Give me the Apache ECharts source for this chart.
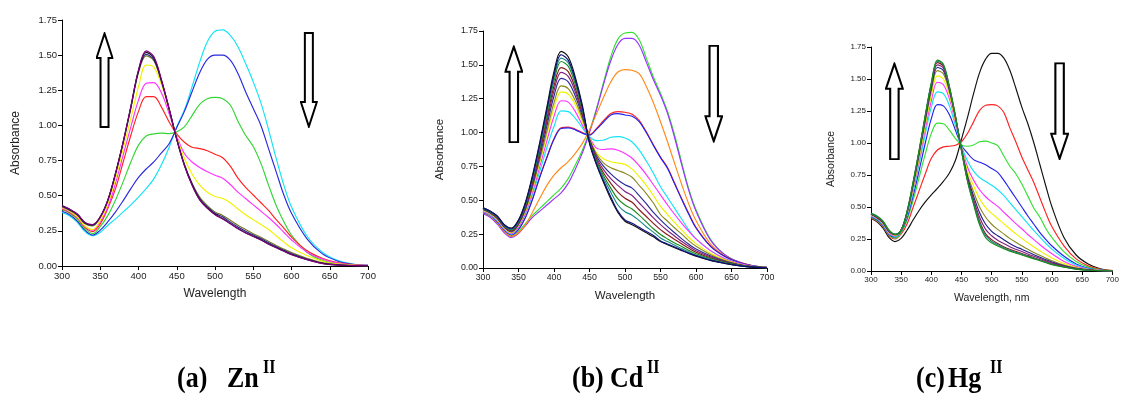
<!DOCTYPE html>
<html><head><meta charset="utf-8">
<script src="https://cdn.jsdelivr.net/npm/echarts@6/dist/echarts.min.js"></script>
<style>html,body{margin:0;padding:0;background:#fff}#c{width:1122px;height:395px}</style>
</head><body><div id="c"></div>
<script>
// Wavelength grid (nm)
var WL = [300,310,320,330,340,350,360,370,380,390,400,410,420,430,440,450,460,470,480,490,500,510,520,530,540,550,560,570,580,590,600,620,640,660,680,700];
var X_TICKS = [300,350,400,450,500,550,600,650,700];
var Y_TICKS = [0,0.25,0.5,0.75,1.0,1.25,1.5,1.75];
var CAPTIONS = [["(a)","Zn","II"],["(b)","Cd","II"],["(c)","Hg","II"]];
var X_TITLES = ["Wavelength","Wavelength","Wavelength, nm"];
var Y_TITLE = "Absorbance";

// Panel (a) Zn(II)
var a_cyan   = [0.38,0.355,0.31,0.245,0.215,0.24,0.29,0.335,0.385,0.435,0.49,0.55,0.62,0.72,0.845,0.99,1.11,1.275,1.45,1.595,1.67,1.68,1.64,1.56,1.44,1.31,1.16,0.97,0.765,0.575,0.42,0.215,0.10,0.04,0.014,0.005];
var a_blue   = [0.39,0.365,0.32,0.255,0.22,0.255,0.315,0.385,0.465,0.55,0.63,0.69,0.74,0.805,0.87,0.985,1.10,1.24,1.375,1.47,1.50,1.50,1.465,1.37,1.24,1.12,1.00,0.835,0.67,0.505,0.375,0.195,0.088,0.036,0.012,0.004];
var a_green  = [0.40,0.375,0.33,0.265,0.23,0.28,0.36,0.47,0.60,0.74,0.86,0.925,0.94,0.945,0.942,0.955,0.99,1.07,1.15,1.19,1.20,1.19,1.145,1.03,0.93,0.85,0.73,0.575,0.43,0.315,0.22,0.10,0.04,0.017,0.007,0.003];
var a_red    = [0.405,0.38,0.34,0.275,0.245,0.30,0.41,0.55,0.74,0.93,1.10,1.205,1.205,1.13,1.025,0.94,0.88,0.845,0.835,0.82,0.795,0.77,0.71,0.625,0.56,0.505,0.45,0.395,0.33,0.27,0.205,0.11,0.055,0.024,0.01,0.004];
var a_magenta= [0.41,0.385,0.345,0.28,0.255,0.315,0.42,0.59,0.79,0.99,1.18,1.30,1.305,1.23,1.085,0.925,0.80,0.74,0.70,0.67,0.645,0.625,0.58,0.525,0.48,0.435,0.39,0.345,0.295,0.24,0.185,0.10,0.05,0.02,0.008,0.003];
var a_yellow = [0.415,0.39,0.35,0.285,0.26,0.325,0.445,0.62,0.835,1.05,1.275,1.43,1.415,1.29,1.11,0.915,0.765,0.655,0.575,0.525,0.495,0.48,0.45,0.405,0.365,0.33,0.295,0.26,0.215,0.17,0.13,0.075,0.035,0.015,0.006,0.002];
var a_olive  = [0.42,0.395,0.36,0.30,0.285,0.345,0.465,0.655,0.875,1.12,1.375,1.495,1.46,1.31,1.115,0.905,0.725,0.59,0.49,0.43,0.385,0.36,0.325,0.29,0.26,0.23,0.205,0.175,0.145,0.12,0.095,0.055,0.025,0.01,0.004,0.001];
var a_navy   = [0.425,0.40,0.365,0.305,0.29,0.348,0.468,0.658,0.88,1.128,1.385,1.505,1.47,1.316,1.117,0.903,0.72,0.583,0.48,0.42,0.375,0.35,0.312,0.278,0.248,0.22,0.195,0.165,0.137,0.112,0.087,0.05,0.021,0.008,0.003,0.001];
var a_black  = [0.428,0.403,0.368,0.308,0.293,0.35,0.47,0.66,0.883,1.132,1.39,1.52,1.482,1.32,1.119,0.901,0.717,0.578,0.472,0.413,0.368,0.338,0.302,0.267,0.237,0.212,0.187,0.157,0.131,0.106,0.082,0.046,0.019,0.007,0.003,0.001];
var a_purple = [0.43,0.405,0.37,0.31,0.295,0.35,0.47,0.66,0.885,1.135,1.395,1.53,1.49,1.325,1.12,0.90,0.715,0.575,0.47,0.41,0.365,0.335,0.30,0.265,0.235,0.21,0.185,0.155,0.13,0.105,0.08,0.045,0.018,0.007,0.003,0.001];

// Panel (b) Cd(II)
var b_green  = [0.405,0.38,0.33,0.27,0.233,0.27,0.33,0.39,0.44,0.49,0.54,0.59,0.66,0.76,0.87,1.01,1.18,1.375,1.56,1.69,1.735,1.74,1.685,1.55,1.41,1.29,1.155,0.98,0.775,0.58,0.43,0.215,0.10,0.045,0.017,0.005];
var b_violet = [0.40,0.375,0.325,0.26,0.225,0.255,0.315,0.375,0.42,0.465,0.51,0.555,0.625,0.73,0.85,1.00,1.17,1.36,1.53,1.65,1.695,1.695,1.645,1.52,1.39,1.275,1.14,0.96,0.76,0.57,0.42,0.21,0.10,0.045,0.017,0.005];
var b_orange = [0.41,0.385,0.335,0.27,0.235,0.26,0.32,0.415,0.515,0.61,0.685,0.74,0.785,0.846,0.92,1.02,1.14,1.263,1.374,1.447,1.465,1.46,1.435,1.34,1.22,1.08,0.93,0.77,0.615,0.47,0.35,0.18,0.09,0.042,0.016,0.004];
var b_red    = [0.41,0.39,0.345,0.28,0.245,0.285,0.38,0.515,0.675,0.82,0.955,1.035,1.04,1.025,1.00,0.985,1.03,1.09,1.14,1.155,1.15,1.135,1.09,1.005,0.91,0.82,0.74,0.625,0.51,0.40,0.30,0.165,0.088,0.042,0.016,0.004];
var b_blue   = [0.41,0.39,0.345,0.28,0.245,0.285,0.375,0.51,0.67,0.815,0.95,1.03,1.035,1.02,0.995,0.98,1.025,1.08,1.13,1.14,1.13,1.12,1.08,1.00,0.905,0.815,0.735,0.62,0.505,0.395,0.295,0.162,0.087,0.042,0.016,0.004];
var b_cyan   = [0.415,0.39,0.35,0.285,0.25,0.30,0.40,0.545,0.715,0.89,1.045,1.16,1.155,1.105,1.035,0.97,0.94,0.945,0.965,0.97,0.96,0.93,0.87,0.79,0.70,0.60,0.52,0.44,0.36,0.28,0.215,0.13,0.072,0.035,0.013,0.004];
var b_magenta= [0.42,0.395,0.355,0.29,0.255,0.305,0.41,0.565,0.75,0.94,1.12,1.235,1.225,1.155,1.055,0.965,0.885,0.875,0.88,0.87,0.845,0.81,0.755,0.69,0.615,0.54,0.465,0.395,0.33,0.27,0.215,0.13,0.07,0.034,0.013,0.004];
var b_yellow = [0.425,0.40,0.36,0.295,0.26,0.315,0.42,0.585,0.78,0.985,1.18,1.30,1.285,1.205,1.08,0.96,0.85,0.805,0.785,0.775,0.765,0.73,0.675,0.61,0.535,0.455,0.395,0.335,0.28,0.225,0.18,0.11,0.062,0.03,0.011,0.003];
var b_olive  = [0.43,0.405,0.365,0.30,0.265,0.32,0.43,0.60,0.80,1.01,1.22,1.345,1.325,1.235,1.10,0.955,0.84,0.775,0.74,0.72,0.70,0.67,0.61,0.55,0.48,0.395,0.345,0.295,0.25,0.20,0.16,0.10,0.056,0.028,0.01,0.003];
var b_slate  = [0.432,0.407,0.368,0.303,0.27,0.325,0.44,0.615,0.825,1.05,1.27,1.40,1.375,1.27,1.12,0.95,0.825,0.75,0.695,0.65,0.615,0.59,0.535,0.475,0.41,0.355,0.305,0.26,0.215,0.175,0.14,0.09,0.052,0.026,0.01,0.003];
var b_purple = [0.435,0.41,0.372,0.306,0.27,0.33,0.45,0.63,0.85,1.08,1.31,1.445,1.415,1.30,1.135,0.945,0.81,0.725,0.66,0.61,0.565,0.535,0.48,0.425,0.37,0.32,0.275,0.235,0.195,0.16,0.128,0.083,0.048,0.024,0.009,0.003];
var b_maroon = [0.437,0.412,0.375,0.309,0.275,0.335,0.455,0.645,0.865,1.105,1.345,1.48,1.45,1.325,1.15,0.94,0.795,0.70,0.625,0.56,0.515,0.485,0.43,0.38,0.33,0.283,0.245,0.21,0.177,0.145,0.117,0.076,0.045,0.022,0.008,0.002];
var b_dkgreen= [0.44,0.415,0.378,0.312,0.28,0.34,0.465,0.66,0.885,1.135,1.38,1.525,1.49,1.355,1.165,0.935,0.785,0.68,0.59,0.51,0.465,0.435,0.39,0.34,0.29,0.248,0.215,0.185,0.158,0.13,0.105,0.07,0.042,0.021,0.008,0.002];
var b_teal   = [0.442,0.417,0.381,0.315,0.285,0.345,0.475,0.67,0.90,1.155,1.405,1.55,1.515,1.375,1.175,0.93,0.775,0.66,0.56,0.465,0.415,0.39,0.35,0.305,0.265,0.222,0.195,0.168,0.143,0.118,0.095,0.064,0.038,0.019,0.007,0.002];
var b_black  = [0.445,0.42,0.385,0.32,0.295,0.355,0.49,0.69,0.93,1.19,1.45,1.60,1.56,1.41,1.20,0.92,0.76,0.63,0.51,0.41,0.345,0.32,0.29,0.26,0.23,0.195,0.172,0.15,0.128,0.107,0.088,0.056,0.034,0.017,0.006,0.002];
var b_navy   = [0.444,0.419,0.383,0.318,0.29,0.35,0.48,0.68,0.915,1.17,1.425,1.575,1.535,1.39,1.185,0.925,0.765,0.64,0.525,0.42,0.355,0.33,0.30,0.27,0.24,0.2,0.177,0.155,0.132,0.11,0.09,0.058,0.035,0.018,0.006,0.002];

// Panel (c) Hg(II)
var c_black  = [0.41,0.385,0.335,0.26,0.23,0.255,0.32,0.40,0.475,0.54,0.595,0.645,0.70,0.765,0.865,1.03,1.20,1.385,1.55,1.655,1.70,1.70,1.665,1.57,1.43,1.28,1.15,1.00,0.83,0.66,0.50,0.26,0.125,0.055,0.018,0.004];
var c_red    = [0.415,0.39,0.345,0.275,0.25,0.29,0.37,0.50,0.63,0.76,0.88,0.945,0.97,0.975,0.983,1.01,1.075,1.165,1.255,1.295,1.30,1.29,1.24,1.12,1.01,0.89,0.79,0.69,0.57,0.45,0.345,0.195,0.095,0.04,0.013,0.003];
var c_green  = [0.42,0.395,0.35,0.28,0.255,0.30,0.40,0.555,0.735,0.915,1.075,1.155,1.15,1.10,1.035,0.985,0.975,0.985,1.01,1.015,1.00,0.98,0.90,0.82,0.76,0.68,0.585,0.49,0.42,0.33,0.26,0.15,0.075,0.03,0.01,0.002];
var c_blue   = [0.425,0.40,0.355,0.285,0.265,0.31,0.42,0.59,0.79,1.00,1.19,1.30,1.29,1.22,1.10,0.98,0.92,0.87,0.85,0.83,0.80,0.77,0.71,0.64,0.57,0.50,0.43,0.365,0.30,0.245,0.195,0.115,0.055,0.022,0.007,0.002];
var c_cyan   = [0.43,0.405,0.36,0.29,0.27,0.315,0.435,0.62,0.84,1.07,1.28,1.40,1.385,1.29,1.135,0.975,0.86,0.78,0.73,0.70,0.67,0.635,0.59,0.535,0.48,0.425,0.37,0.315,0.265,0.215,0.17,0.098,0.047,0.018,0.006,0.002];
var c_magenta= [0.435,0.41,0.365,0.295,0.275,0.32,0.445,0.64,0.87,1.11,1.33,1.475,1.455,1.345,1.16,0.97,0.81,0.71,0.635,0.58,0.54,0.505,0.46,0.415,0.37,0.33,0.285,0.245,0.205,0.168,0.135,0.075,0.036,0.014,0.005,0.001];
var c_yellow = [0.438,0.413,0.37,0.30,0.278,0.318,0.45,0.655,0.89,1.14,1.37,1.525,1.50,1.375,1.175,0.965,0.78,0.665,0.565,0.495,0.45,0.41,0.37,0.33,0.29,0.255,0.22,0.187,0.157,0.128,0.102,0.058,0.028,0.011,0.004,0.001];
var c_olive  = [0.441,0.416,0.374,0.304,0.281,0.318,0.455,0.668,0.91,1.165,1.405,1.565,1.54,1.40,1.19,0.96,0.75,0.62,0.50,0.42,0.365,0.325,0.29,0.255,0.225,0.197,0.17,0.145,0.122,0.10,0.08,0.046,0.022,0.009,0.003,0.001];
var c_navy   = [0.443,0.418,0.377,0.307,0.283,0.319,0.46,0.678,0.925,1.185,1.43,1.59,1.565,1.415,1.198,0.955,0.735,0.585,0.455,0.365,0.31,0.275,0.245,0.215,0.19,0.17,0.148,0.127,0.107,0.088,0.07,0.04,0.02,0.008,0.003,0.001];
var c_purple = [0.445,0.42,0.38,0.31,0.285,0.32,0.463,0.685,0.935,1.20,1.45,1.61,1.585,1.425,1.203,0.95,0.72,0.56,0.42,0.325,0.275,0.24,0.215,0.19,0.17,0.152,0.133,0.115,0.097,0.08,0.063,0.036,0.018,0.007,0.002,0.001];
var c_maroon = [0.447,0.422,0.383,0.313,0.287,0.32,0.466,0.692,0.942,1.21,1.46,1.628,1.60,1.432,1.206,0.945,0.71,0.54,0.39,0.29,0.245,0.215,0.19,0.17,0.153,0.137,0.12,0.104,0.088,0.072,0.056,0.033,0.016,0.007,0.002,0.001];
var c_teal   = [0.449,0.425,0.386,0.316,0.288,0.32,0.468,0.697,0.947,1.215,1.465,1.64,1.61,1.437,1.208,0.942,0.705,0.53,0.375,0.275,0.232,0.205,0.182,0.162,0.146,0.131,0.115,0.10,0.084,0.068,0.053,0.031,0.015,0.006,0.002,0.001];
var c_dkgreen= [0.45,0.43,0.39,0.32,0.285,0.32,0.47,0.70,0.95,1.22,1.47,1.648,1.615,1.44,1.21,0.94,0.70,0.52,0.36,0.26,0.22,0.195,0.175,0.155,0.14,0.125,0.11,0.095,0.08,0.065,0.05,0.03,0.015,0.006,0.002,0.001];

var PANELS = [
  [[a_cyan,'#12e4f4'],[a_blue,'#2a2ae0'],[a_green,'#33d633'],[a_red,'#ff2222'],[a_magenta,'#ff33ff'],[a_yellow,'#f2f200'],[a_olive,'#7a7a20'],[a_navy,'#202090'],[a_black,'#111111'],[a_purple,'#800080']],
  [[b_green,'#33e033'],[b_violet,'#9933ff'],[b_orange,'#ff8a1a'],[b_red,'#ff2222'],[b_blue,'#2222ee'],[b_cyan,'#12e4f4'],[b_magenta,'#ff33ff'],[b_yellow,'#f2f200'],[b_olive,'#8a8a20'],[b_slate,'#2a2a99'],[b_purple,'#802080'],[b_maroon,'#8a1a1a'],[b_dkgreen,'#1a8a1a'],[b_teal,'#1a8a8a'],[b_black,'#111111'],[b_navy,'#10107a']],
  [[c_black,'#111111'],[c_red,'#ff2222'],[c_green,'#33e033'],[c_blue,'#2222ee'],[c_cyan,'#12e4f4'],[c_magenta,'#ff33ff'],[c_yellow,'#f2f200'],[c_olive,'#8a8a20'],[c_navy,'#20208a'],[c_purple,'#802080'],[c_maroon,'#8a1a1a'],[c_teal,'#1a8a8a'],[c_dkgreen,'#1a8a1a']]
];

var GRIDS = [
  {left:62, top:20, width:306, height:246},
  {left:483, top:31, width:284, height:237},
  {left:871, top:47, width:245, height:224}
];
var FS = [9.5, 8.8, 8];
var TFS = [12, 11.5, 10.5];
var YGAP = [40, 37, 34];
var ARROWS = [
  {up:[355.6,1.323], down:[622.7,1.323], size:[18,96]},
  {up:[343.4,1.283], down:[625,1.287], size:[19,98]},
  {up:[338.8,1.248], down:[612.6,1.248], size:[19,98]}
];
function svgArrow(pts){
  var svg = '<svg xmlns="http://www.w3.org/2000/svg" width="18" height="96" viewBox="0 0 18 96">' +
    '<polygon points="' + pts + '" fill="#ffffff" stroke="#000000" stroke-width="2" stroke-linejoin="miter"/></svg>';
  return 'image://data:image/svg+xml;charset=utf-8,' + encodeURIComponent(svg);
}
var UP = svgArrow('5,26 1,26 9,1.5 17,26 13,26 13,95 5,95');
var DOWN = svgArrow('5,1 13,1 13,70 17,70 9,94.5 1,70 5,70');

var xAxes=[], yAxes=[], series=[];
GRIDS.forEach(function(g,k){
  xAxes.push({type:'value', gridIndex:k, min:X_TICKS[0], max:X_TICKS[X_TICKS.length-1], interval:50,
    name:X_TITLES[k], nameLocation:'middle', nameGap:22,
    nameTextStyle:{fontFamily:'Liberation Sans', fontSize:TFS[k], color:'#222'},
    axisLine:{lineStyle:{color:'#000', width:1}}, axisTick:{length:4, lineStyle:{color:'#000'}},
    axisLabel:{fontFamily:'Liberation Sans', fontSize:FS[k], color:'#222', margin:5}, splitLine:{show:false}});
  yAxes.push({type:'value', gridIndex:k, min:Y_TICKS[0], max:Y_TICKS[Y_TICKS.length-1], interval:0.25,
    name:Y_TITLE, nameLocation:'middle', nameGap:YGAP[k],
    nameTextStyle:{fontFamily:'Liberation Sans', fontSize:TFS[k], color:'#222'},
    axisLine:{show:true, lineStyle:{color:'#000', width:1}}, axisTick:{show:true, length:4, lineStyle:{color:'#000'}},
    axisLabel:{fontFamily:'Liberation Sans', fontSize:FS[k], color:'#222', margin:5, formatter:function(v){return v.toFixed(2);}},
    splitLine:{show:false}});
  PANELS[k].forEach(function(p,j){
    var s = {type:'line', xAxisIndex:k, yAxisIndex:k, showSymbol:false, smooth:0.35, silent:true,
      lineStyle:{color:p[1], width:1.15}, data: WL.map(function(w,i){return [w,p[0][i]];})};
    if(j===0){
      var A = ARROWS[k];
      s.markPoint = {silent:true, label:{show:false},
        data:[{coord:A.up, symbol:UP, symbolSize:A.size}, {coord:A.down, symbol:DOWN, symbolSize:A.size}]};
    }
    series.push(s);
  });
});

var CAP_X = [[177,227,263],[572,610,647],[916,948,990]];
var graphic = [];
CAPTIONS.forEach(function(c,k){
  graphic.push({type:'text', x:CAP_X[k][0], y:379, scaleY:1.12, style:{text:c[0], font:'bold 26px "Liberation Serif"', fill:'#000', verticalAlign:'middle'}});
  graphic.push({type:'text', x:CAP_X[k][1], y:379, scaleY:1.12, style:{text:c[1], font:'bold 26px "Liberation Serif"', fill:'#000', verticalAlign:'middle'}});
  graphic.push({type:'text', x:CAP_X[k][2], y:368, scaleY:1.15, style:{text:c[2], font:'bold 16px "Liberation Serif"', fill:'#000', verticalAlign:'middle'}});
});

var chart = echarts.init(document.getElementById('c'), null, {renderer:'canvas'});
chart.setOption({animation:false, backgroundColor:'#fff', grid:GRIDS, xAxis:xAxes, yAxis:yAxes, series:series, graphic:graphic});
</script></body></html>
